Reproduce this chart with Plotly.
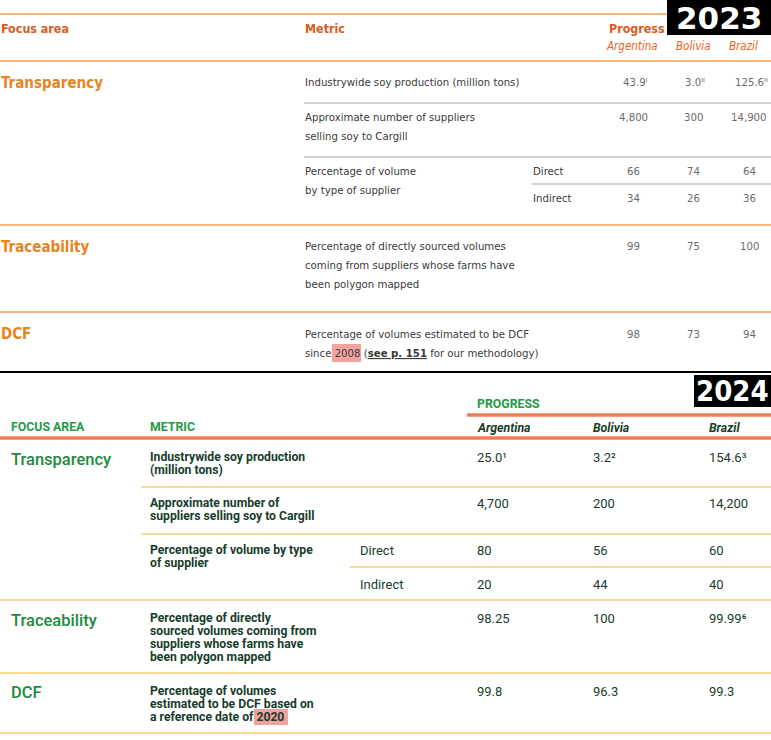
import plotly.graph_objects as go

# ---------------- data ----------------
countries = ["Argentina", "Bolivia", "Brazil"]
focus_areas = ["Transparency", "Traceability", "DCF"]
supplier_types = ["Direct", "Indirect"]
years = ["2023", "2024"]

# 2023 report
prod_2023 = ["43.9", "3.0", "125.6"]
prod_notes_2023 = ["ᴵ", "ᴵᴵ", "ᴵᴵ"]
suppliers_2023 = ["4,800", "300", "14,900"]
direct_2023 = ["66", "74", "64"]
indirect_2023 = ["34", "26", "36"]
mapped_2023 = ["99", "75", "100"]
dcf_2023 = ["98", "73", "94"]

metric_prod_2023 = ["Industrywide soy production (million tons)"]
metric_suppliers_2023 = ["Approximate number of suppliers", "selling soy to Cargill"]
metric_volume_2023 = ["Percentage of volume", "by type of supplier"]
metric_mapped_2023 = ["Percentage of directly sourced volumes",
                      "coming from suppliers whose farms have", "been polygon mapped"]
metric_dcf_2023 = ["Percentage of volumes estimated to be DCF",
                   "since 2008 (<b><span style='text-decoration:underline'>see p. 151</span></b> for our methodology)"]

# 2024 report
prod_2024 = ["25.0", "3.2", "154.6"]
prod_notes_2024 = ["¹", "²", "³"]
suppliers_2024 = ["4,700", "200", "14,200"]
direct_2024 = ["80", "56", "60"]
indirect_2024 = ["20", "44", "40"]
mapped_2024 = ["98.25", "100", "99.99"]
mapped_notes_2024 = ["", "", "⁶"]
dcf_2024 = ["99.8", "96.3", "99.3"]

metric_prod_2024 = ["Industrywide soy production", "(million tons)"]
metric_suppliers_2024 = ["Approximate number of", "suppliers selling soy to Cargill"]
metric_volume_2024 = ["Percentage of volume by type", "of supplier"]
metric_mapped_2024 = ["Percentage of directly", "sourced volumes coming from",
                      "suppliers whose farms have", "been polygon mapped"]
metric_dcf_2024 = ["Percentage of volumes", "estimated to be DCF based on",
                   "a reference date of 2020"]

# ---------------- styles ----------------
F23 = "DejaVu Sans Condensed, Liberation Sans Narrow, sans-serif"
F24 = "Roboto, Inter, Liberation Sans, sans-serif"
FBIG = "DejaVu Sans, sans-serif"

OR_HEAD = "#E05A1C"
OR_FOCUS = "#E8841E"
OR_CTRY = "#E8641E"
OR_LINE = "#F2A24E"
GREY_LINE = "#C4C4C4"
TXT23 = "#3a3a3a"
VAL23 = "#6b6b6b"

GR_HEAD = "#1E9B48"
GR_FOCUS = "#1E8A3C"
TXT24 = "#173D2B"
CORAL = "#F47B50"
YEL = "#F6B52A"
HILITE = "#F2A3A0"

S23 = 11.3   # body size, 2023
S24M = 12.2  # metric size, 2024
S24V = 13    # value size, 2024

W, H = 771, 740
fig = go.Figure()
fig.add_trace(go.Scatter(x=[], y=[], mode="markers", showlegend=False, hoverinfo="skip"))

ann = []
shapes = []


def txt(x, y, s, size, color, family, anchor="left", weight=None):
    font = dict(size=size, color=color, family=family)
    if weight:
        font["weight"] = weight
    ann.append(dict(x=x, y=y, xref="x", yref="y", text=s, showarrow=False,
                    xanchor=anchor, yanchor="middle", borderpad=0, font=font))


def hline(x0, x1, y, color, width):
    shapes.append(dict(type="line", xref="x", yref="y", x0=x0, x1=x1, y0=y, y1=y,
                       line=dict(color=color, width=width), layer="below"))


def rect(x0, x1, y0, y1, color):
    shapes.append(dict(type="rect", xref="x", yref="y", x0=x0, x1=x1, y0=y0, y1=y1,
                       fillcolor=color, line=dict(width=0), layer="below"))


def lines(x, y0, step, rows, size, color, family, weight=None):
    for i, r in enumerate(rows):
        txt(x, y0 + i * step, r, size, color, family, weight=weight)


# ================= 2023 block =================
col23 = [633, 693, 749]
rect(667, W, 0, 35, "black")
txt(719, 18, "<b>" + years[0] + "</b>", 31, "white", FBIG, "center")
hline(0, 667, 14, OR_LINE, 1.5)
txt(0, 28, "<b>Focus area</b>", 12.4, OR_HEAD, F23)
txt(304, 28, "<b>Metric</b>", 12.4, OR_HEAD, F23)
txt(608, 28, "<b>Progress</b>", 12.4, OR_HEAD, F23)
for c, name in zip([632, 693, 743], countries):
    txt(c, 46, "<i>" + name + "</i>", 11.5, OR_CTRY, F23, "center")
hline(0, W, 61, OR_LINE, 1.5)

# Transparency
txt(0, 83, "<b>" + focus_areas[0] + "</b>", 15, OR_FOCUS, F23)
lines(304, 82, 19, metric_prod_2023, S23, TXT23, F23)
for c, v, n in zip(col23, prod_2023, prod_notes_2023):
    txt(c + 2, 82, v + n, S23, VAL23, F23, "center")
hline(304, W, 103, GREY_LINE, 1.5)
lines(304, 117, 19, metric_suppliers_2023, S23, TXT23, F23)
for c, v in zip(col23, suppliers_2023):
    txt(c, 117, v, S23, VAL23, F23, "center")
hline(304, W, 157, GREY_LINE, 1.5)
lines(304, 171, 19, metric_volume_2023, S23, TXT23, F23)
txt(532, 171, supplier_types[0], S23, TXT23, F23)
txt(532, 198, supplier_types[1], S23, TXT23, F23)
for c, v in zip(col23, direct_2023):
    txt(c, 171, v, S23, VAL23, F23, "center")
hline(532, W, 184, GREY_LINE, 1.5)
for c, v in zip(col23, indirect_2023):
    txt(c, 198, v, S23, VAL23, F23, "center")
hline(0, W, 225, OR_LINE, 1.5)

# Traceability
txt(0, 247, "<b>" + focus_areas[1] + "</b>", 15, OR_FOCUS, F23)
lines(304, 246, 19, metric_mapped_2023, S23, TXT23, F23)
for c, v in zip(col23, mapped_2023):
    txt(c, 246, v, S23, VAL23, F23, "center")
hline(0, W, 312, OR_LINE, 1.5)

# DCF
txt(0, 334, "<b>" + focus_areas[2] + "</b>", 15, OR_FOCUS, F23)
rect(332, 361, 344, 362, HILITE)
lines(304, 334, 19, metric_dcf_2023, S23, TXT23, F23)
for c, v in zip(col23, dcf_2023):
    txt(c, 334, v, S23, VAL23, F23, "center")

hline(0, W, 372, "black", 2)

# ================= 2024 block =================
col24 = [476, 592, 708]
rect(694, W, 375, 407, "black")
txt(732, 391, "<b>" + years[1] + "</b>", 29, "white", "DejaVu Sans Condensed, DejaVu Sans, sans-serif", "center")
txt(476, 404, "<b>PROGRESS</b>", 12.3, GR_HEAD, F24)
hline(467, W, 415, CORAL, 3.5)
txt(10, 427, "<b>FOCUS AREA</b>", 12.3, GR_HEAD, F24)
txt(149, 427, "<b>METRIC</b>", 12.3, GR_HEAD, F24)
for c, name in zip(col24, countries):
    txt(c, 428, "<b><i>" + name + "</i></b>", 12.3, TXT24, F24)
hline(0, W, 438, CORAL, 3.5)

# Transparency
txt(10, 459, focus_areas[0], 16.5, GR_FOCUS, F24, weight=500)
lines(149, 457, 13, ["<b>" + r + "</b>" for r in metric_prod_2024], S24M, TXT24, F24)
for c, v, n in zip(col24, prod_2024, prod_notes_2024):
    txt(c, 457, v + n, S24V, TXT24, F24)
hline(141, W, 487, YEL, 1.2)
lines(149, 503, 13, ["<b>" + r + "</b>" for r in metric_suppliers_2024], S24M, TXT24, F24)
for c, v in zip(col24, suppliers_2024):
    txt(c, 503, v, S24V, TXT24, F24)
hline(141, W, 534, YEL, 1.2)
lines(149, 550, 13, ["<b>" + r + "</b>" for r in metric_volume_2024], S24M, TXT24, F24)
txt(359, 550, supplier_types[0], S24V, TXT24, F24)
for c, v in zip(col24, direct_2024):
    txt(c, 550, v, S24V, TXT24, F24)
hline(350, W, 567, YEL, 1.2)
txt(359, 584, supplier_types[1], S24V, TXT24, F24)
for c, v in zip(col24, indirect_2024):
    txt(c, 584, v, S24V, TXT24, F24)
hline(0, W, 600, YEL, 1.2)

# Traceability
txt(10, 620, focus_areas[1], 16.5, GR_FOCUS, F24, weight=500)
lines(149, 618, 13, ["<b>" + r + "</b>" for r in metric_mapped_2024], S24M, TXT24, F24)
for c, v, n in zip(col24, mapped_2024, mapped_notes_2024):
    txt(c, 618, v + n, S24V, TXT24, F24)
hline(0, W, 673, YEL, 1.2)

# DCF
txt(10, 692, focus_areas[2], 16.5, GR_FOCUS, F24, weight=500)
rect(254, 288, 709, 725, HILITE)
lines(149, 691, 13, ["<b>" + r + "</b>" for r in metric_dcf_2024], S24M, TXT24, F24)
for c, v in zip(col24, dcf_2024):
    txt(c, 691, v, S24V, TXT24, F24)
hline(0, W, 733, YEL, 1.2)

fig.update_layout(
    width=W, height=H, margin=dict(l=0, r=0, t=0, b=0),
    paper_bgcolor="white", plot_bgcolor="white",
    xaxis=dict(range=[0, W], visible=False, fixedrange=True),
    yaxis=dict(range=[H, 0], visible=False, fixedrange=True),
    annotations=ann, shapes=shapes, showlegend=False,
)

fig.write_html("out.html", config={"displayModeBar": False},
               post_script="document.body.style.margin='0';document.body.style.overflow='hidden';")
